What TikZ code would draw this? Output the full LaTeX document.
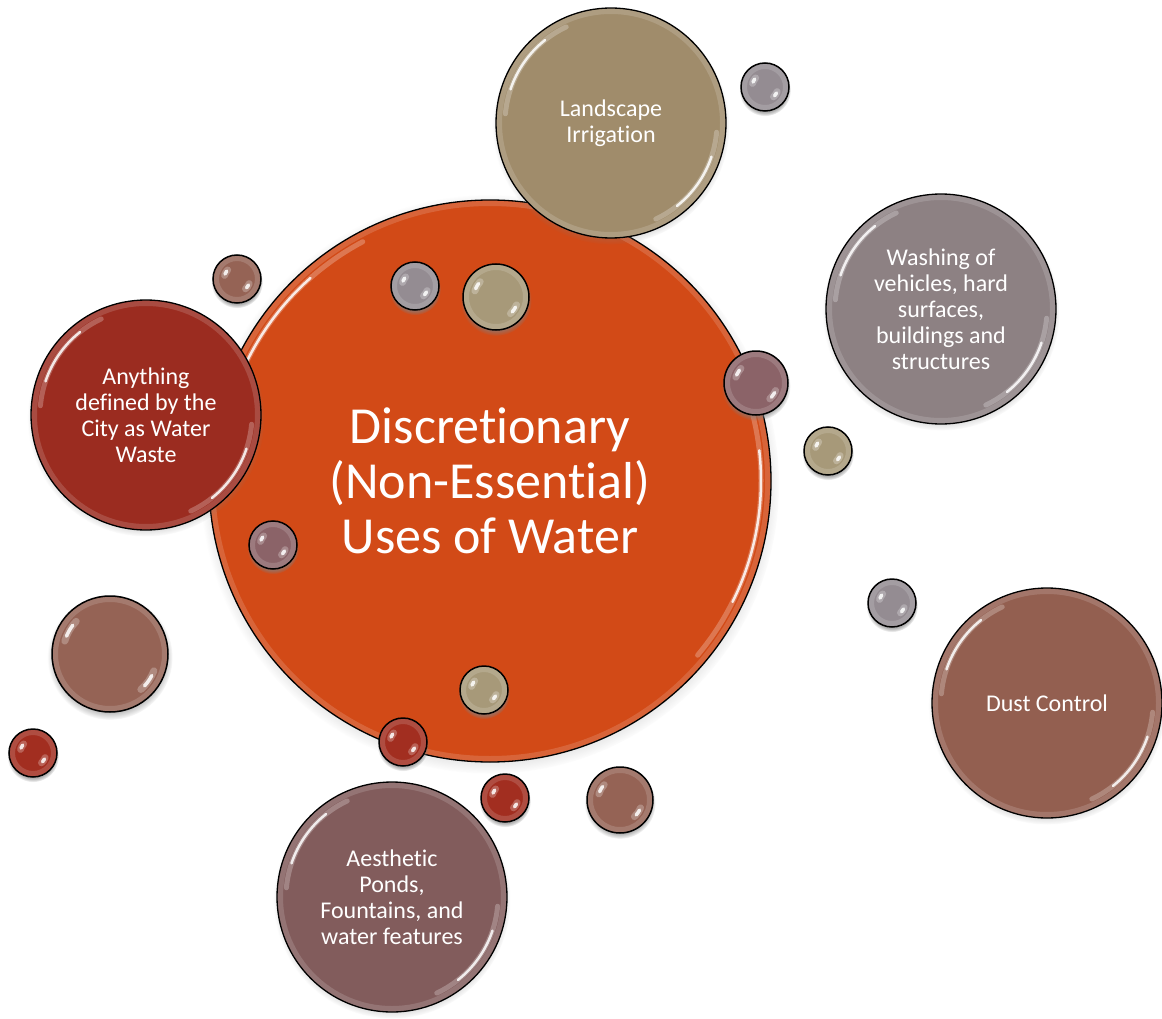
\documentclass[tikz,border=0pt]{standalone}
\usepackage{fontspec}
\setmainfont{Carlito}[Ligatures=CommonOff]
\usetikzlibrary{shadows}
\definecolor{mainc}{HTML}{D24A17}
\definecolor{irrigc}{HTML}{A08C6B}
\definecolor{washc}{HTML}{8D8183}
\definecolor{wastec}{HTML}{9B2C20}
\definecolor{dustc}{HTML}{935F50}
\definecolor{pondc}{HTML}{825C5C}
\definecolor{greyd}{HTML}{948C92}
\definecolor{tand}{HTML}{A79979}
\definecolor{mauved}{HTML}{8B6368}
\definecolor{redd}{HTML}{A22E20}
\definecolor{brownd}{HTML}{956355}
\begin{document}
\begin{tikzpicture}[x=1pt, y=-1pt,
	gloss/.style n args={5}{path picture={
		\pgfpointdiff{\pgfpointanchor{path picture bounding box}{center}}{\pgfpointanchor{path picture bounding box}{east}}
		\pgfgetlastxy{\rout}{\rtmp}
		\pgfmathsetlengthmacro\rin{\rout-#1}
		\pgfmathsetlengthmacro\rrim{\rout-3pt}
		\draw[white, opacity=.15, line width=6pt] (path picture bounding box.center) circle[radius=\rrim];
		\foreach \a in {#3,#4}{
			\draw[white, opacity=.25, line width=2*#5, line cap=round] (path picture bounding box.center) ++(\a+#2:\rin) arc[start angle=\a+#2, end angle=\a-#2, radius=\rin];
			\draw[white, opacity=.85, line width=#5, line cap=round] (path picture bounding box.center) ++(\a+#2*0.55:\rin) arc[start angle=\a+#2*0.55, end angle=\a-#2*0.55, radius=\rin];}
		}},
	bubble/.style={circle, draw=black, line width=1.3pt, inner sep=0pt, minimum size=230pt,
		text=white, align=center, font=\fontsize{24}{26}\selectfont,
		circular drop shadow={shadow xshift=0pt, shadow yshift=-3pt, shadow scale=1.03, opacity=.6},
		gloss={9pt}{30}{145}{-35}{2.5pt}},
	drop/.style={circle, draw=black, line width=1.5pt, inner sep=0pt,
		circular drop shadow={shadow xshift=0pt, shadow yshift=-3pt, shadow scale=1.08, opacity=.6},
		gloss={11pt}{14}{150}{-35}{3.5pt}}]
	\useasboundingbox (0,0) rectangle (1162,1019);
	% central circle
	\node[bubble, fill=mainc, minimum size=562pt, font=\fontsize{52}{55}\selectfont, gloss={10pt}{30}{148}{-10}{2.5pt}] (main) at (490,481) {Discretionary\\(Non-Essential)\\Uses of Water};
	% uses
	\node[bubble, fill=irrigc] (irrig) at (611,123) {Landscape\\Irrigation};
	\node[bubble, fill=washc] (wash) at (941,309) {Washing of\\vehicles, hard\\surfaces,\\buildings and\\structures};
	\node[bubble, fill=wastec] (waste) at (146,415) {Anything\\defined by the\\City as Water\\Waste};
	\node[bubble, fill=dustc] (dust) at (1047,703) {Dust Control};
	\node[bubble, fill=pondc] (ponds) at (392,897) {Aesthetic\\Ponds,\\Fountains, and\\water features};
	% small drops
	\foreach \x/\y/\r/\c [count=\i] in {765/87/24/greyd, 237/279/24/brownd, 415/286/24/greyd, 496/297/33/tand,
		756/383/32/mauved, 828/451/24/tand, 273/545/24/mauved, 892/603/24/greyd, 110/654/58/brownd,
		484/690/24/tand, 403/742/24/redd, 33/753/24/redd, 505/798/24/redd, 620/800/33/brownd}
		\node[drop, fill=\c, minimum size=2*\r pt] (d\i) at (\x,\y) {};
\end{tikzpicture}
\end{document}
